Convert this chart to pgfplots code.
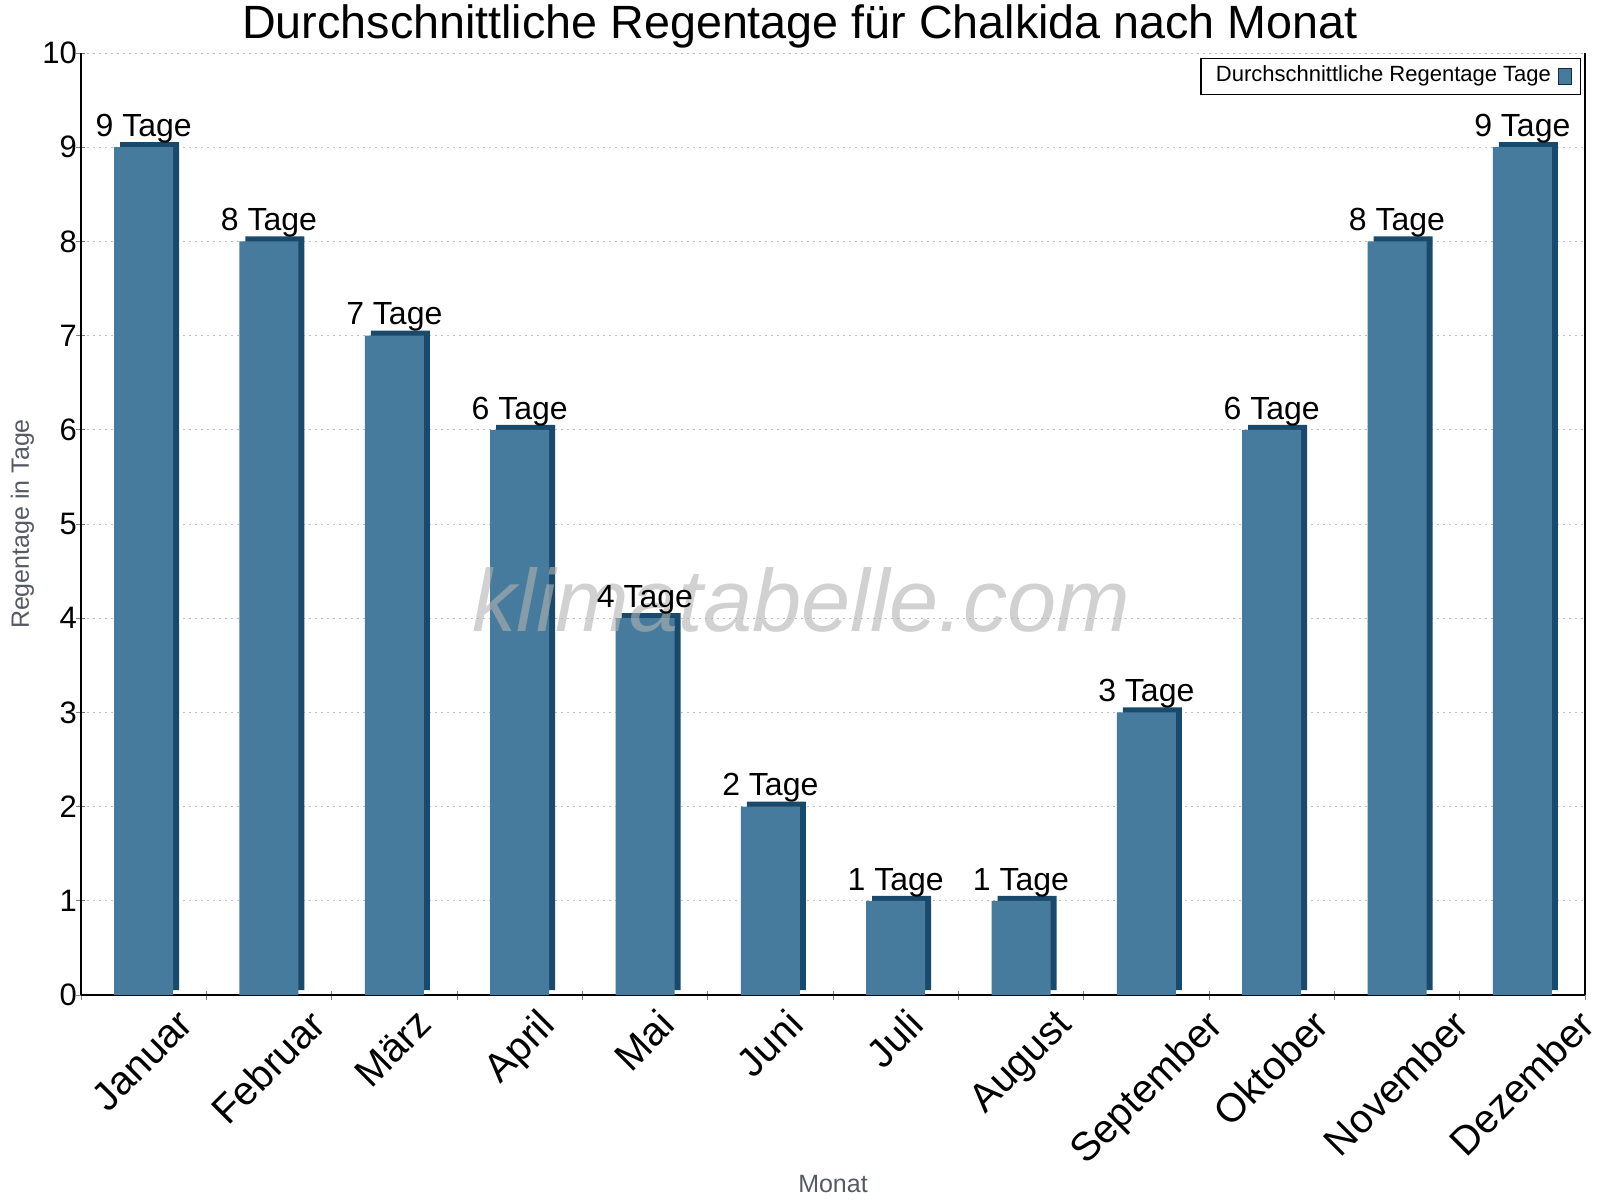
\documentclass[border=0pt]{standalone}
\usepackage{fontspec}
\setmainfont{Liberation Sans}
\usepackage{pgfplots}
\usepackage{pgfplotstable}
\pgfplotsset{compat=1.18}

\definecolor{barface}{RGB}{70,123,157}
\definecolor{barside}{RGB}{26,74,107}
\definecolor{labelgray}{RGB}{85,90,100}

% average rain days per month (0 = Januar)
\pgfplotstableread{
x days
0 9
1 8
2 7
3 6
4 4
5 2
6 1
7 1
8 3
9 6
10 8
11 9
}\raindays

\begin{document}
\begin{tikzpicture}
\useasboundingbox (-24.3pt,-61.5pt) rectangle (455.7pt,298.5pt);
\begin{axis}[
  at={(0,0)}, anchor=south west,
  scale only axis, width=451.2pt, height=282.6pt,
  xmin=-0.5, xmax=11.5, ymin=0, ymax=10,
  ytick={0,...,10},
  xtick={0,...,11},
  xticklabels={Januar,Februar,März,April,Mai,Juni,Juli,August,September,Oktober,November,Dezember},
  minor xtick={-0.5,0.5,...,11.5},
  major x tick style={draw=none},
  tick align=center, major tick length=2.7pt, minor tick length=2.7pt,
  axis x line*=bottom, axis y line*=left,
  axis line style={line width=0.4pt},
  ymajorgrids,
  grid style={dash pattern=on 0.6pt off 1.2pt, black!25, line width=0.3pt},
  /pgf/number format/assume math mode=true,
  yticklabel style={font=\fontsize{9.3}{11}\selectfont, inner sep=0pt, xshift=0.3pt},
  % rotated labels: centred on the month, shifted by their own length
  xticklabel style={font=\fontsize{12}{14}\selectfont, inner sep=0pt,
    xshift={{9.6,11.45,6.04,5.09,3.42,4.38,2.96,9.82,17.36,11.7,16.15,16.15}[\ticknum]*1pt},
    yshift=-2pt, rotate=45, anchor=north east},
  xlabel={Monat}, ylabel={Regentage in Tage},
  every axis x label/.style={at={(axis description cs:0.5,-0.2006)}, anchor=center,
    font=\fontsize{7.5}{9}\selectfont, text=labelgray},
  every axis y label/.style={at={(axis description cs:-0.0389,0.5)}, anchor=center, rotate=90,
    font=\fontsize{7.5}{9}\selectfont, text=labelgray},
  legend plot pos=right,
  legend image code/.code={\draw[fill=barface, draw=barside!60!black, line width=0.4pt] (0.8pt,-2.4pt) rectangle (4.7pt,2.4pt);},
  legend style={at={(rel axis cs:1,1)}, anchor=north east, xshift=-1.2pt, yshift=-1.5pt,
    font=\fontsize{6.6}{8}\selectfont, draw=black, line width=0.4pt,
    inner xsep=2.5pt, inner ysep=0.2pt},
]
\addplot[ybar, bar width=17.7pt, bar shift=1.8pt, yshift=1.5pt, fill=barside, draw=none, forget plot]
  table[x=x, y=days]{\raindays};
\addplot[ybar, bar width=17.7pt, bar shift=0pt, fill=barface, draw=none,
  nodes near coords={\pgfmathprintnumber{\pgfplotspointmeta} Tage},
  every node near coord/.append style={font=\fontsize{9.6}{11}\selectfont, inner sep=0pt, yshift=1pt}]
  table[x=x, y=days]{\raindays};
\addlegendentry{Durchschnittliche Regentage Tage}
\node[anchor=base, font=\fontsize{26.5}{30}\selectfont\itshape, text=black!30, opacity=0.6]
  at (rel axis cs:0.479,0.386) {klimatabelle.com};
\end{axis}
\draw[line width=0.4pt] (451.2pt,0pt) -- (451.2pt,282.6pt);
\node[anchor=base, font=\fontsize{14}{16}\selectfont] at (215.7pt,287.1pt)
  {Durchschnittliche Regentage für Chalkida nach Monat};
\end{tikzpicture}
\end{document}
